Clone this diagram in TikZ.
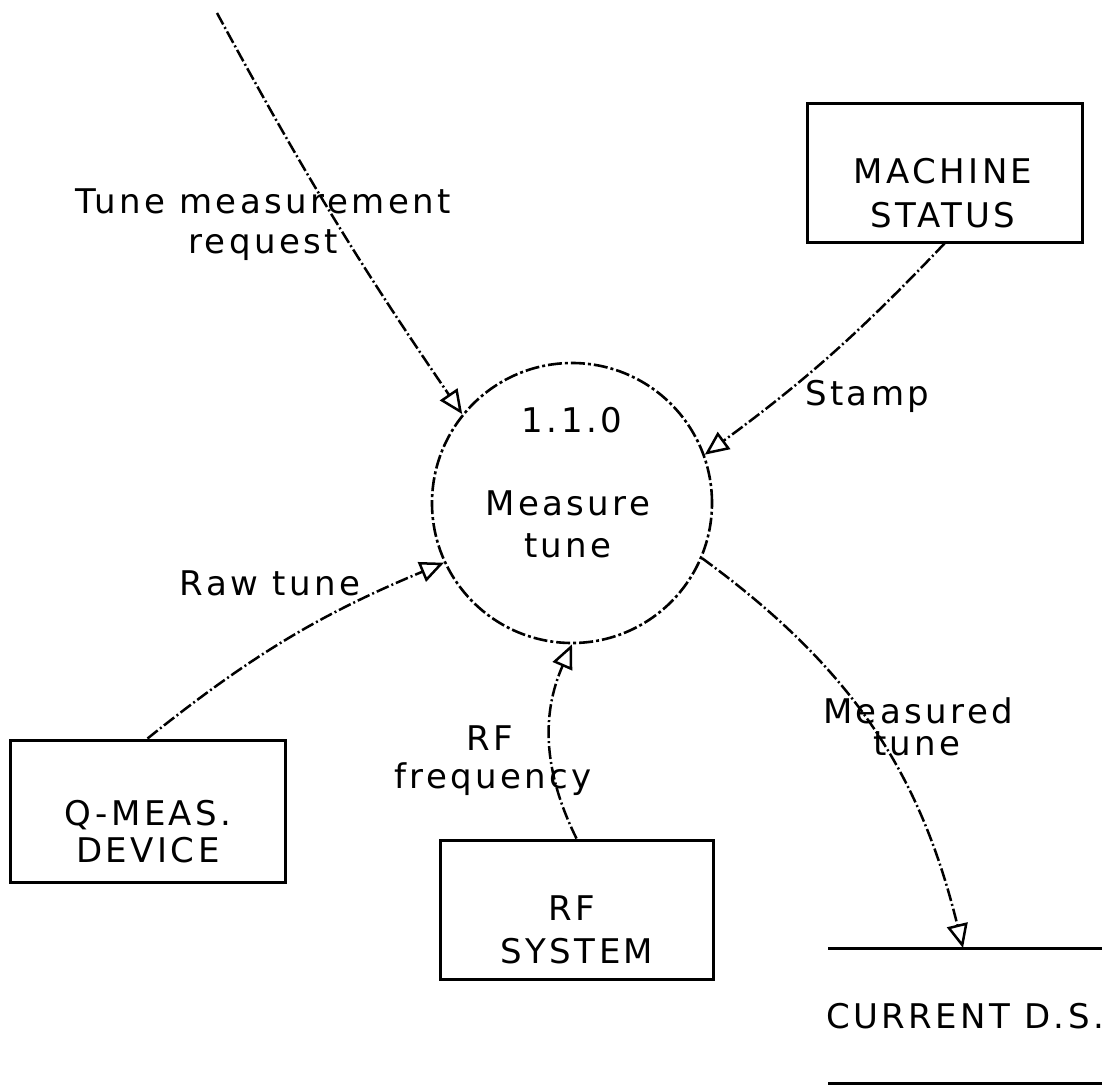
\documentclass[tikz,border=0pt]{standalone}
\usepackage{fontspec}
\setmainfont{DejaVu Sans}[LetterSpace=10]
\usetikzlibrary{arrows.meta}
\begin{document}
\begin{tikzpicture}[x=1pt,y=-1pt,
  lbl/.style={anchor=base,inner sep=0pt,font=\fontsize{34}{40}\selectfont},
  ent/.style={draw,line width=3pt,minimum width=275pt,minimum height=139pt,inner sep=0pt},
  proc/.style={draw,circle,line width=2.6pt,minimum size=280pt,inner sep=0pt,dash pattern=on 14pt off 3pt on 3pt off 3pt},
  flow/.style={line width=2.5pt,dash pattern=on 13pt off 3pt on 2pt off 3pt,-{Triangle[open,length=24pt,width=21pt,line width=2.5pt]}}
]
\useasboundingbox (0,0) rectangle (1116,1087);
% process
\node[proc] (p) at (572,503) {};
\node[lbl] (pn) at (572,432) {1.1.0};
\node[lbl] (pt1) at (568,515) {Measure};
\node[lbl] (pt2) at (568,557) {tune};
% entities
\node[ent] (ms) at (944.5,172.5) {};
\node[lbl] (ms1) at (943,183) {MACHINE};
\node[lbl] (ms2) at (943,227) {STATUS};
\node[ent,minimum height=142pt] (qm) at (147.5,811) {};
\node[lbl] (qm1) at (148,825) {Q-MEAS.};
\node[lbl] (qm2) at (148,862) {DEVICE};
\node[ent,minimum width=273pt] (rf) at (576.5,909.5) {};
\node[lbl] (rf1) at (572,920) {RF};
\node[lbl] (rf2) at (577,963) {SYSTEM};
% data store
\coordinate (dsl) at (828,948);
\coordinate (dsr) at (1102,948);
\coordinate (dbl) at (828,1083);
\coordinate (dbr) at (1102,1083);
\coordinate (ds) at (963,948);
\draw[line width=3pt] (dsl) -- (dsr);
\draw[line width=3pt] (dbl) -- (dbr);
\node[lbl] (dsn) at (965,1028) {CURRENT D.S.};
% flows
\coordinate (tq) at (217,13);
\draw[flow] (tq) to[bend right=3] (p.141);
\node[lbl] (tl1) at (263,213) {Tune measurement};
\node[lbl] (tl2) at (263,253) {request};
\draw[flow] (ms.south) to[bend left=5] (p.20);
\node[lbl,anchor=base west] (sl) at (805,405) {Stamp};
\draw[flow] (qm.north) to[bend left=8] (p.205);
\node[lbl] (rl) at (270,595) {Raw tune};
\draw[flow] (rf.north) to[bend left=25] (p.270);
\node[lbl] (fl1) at (490,750) {RF};
\node[lbl] (fl2) at (493,788) {frequency};
\draw[flow] (p.337) to[bend left=20] (ds);
\node[lbl] (ml1) at (918,723) {Measured};
\node[lbl] (ml2) at (917,755) {tune};
\end{tikzpicture}
\end{document}
